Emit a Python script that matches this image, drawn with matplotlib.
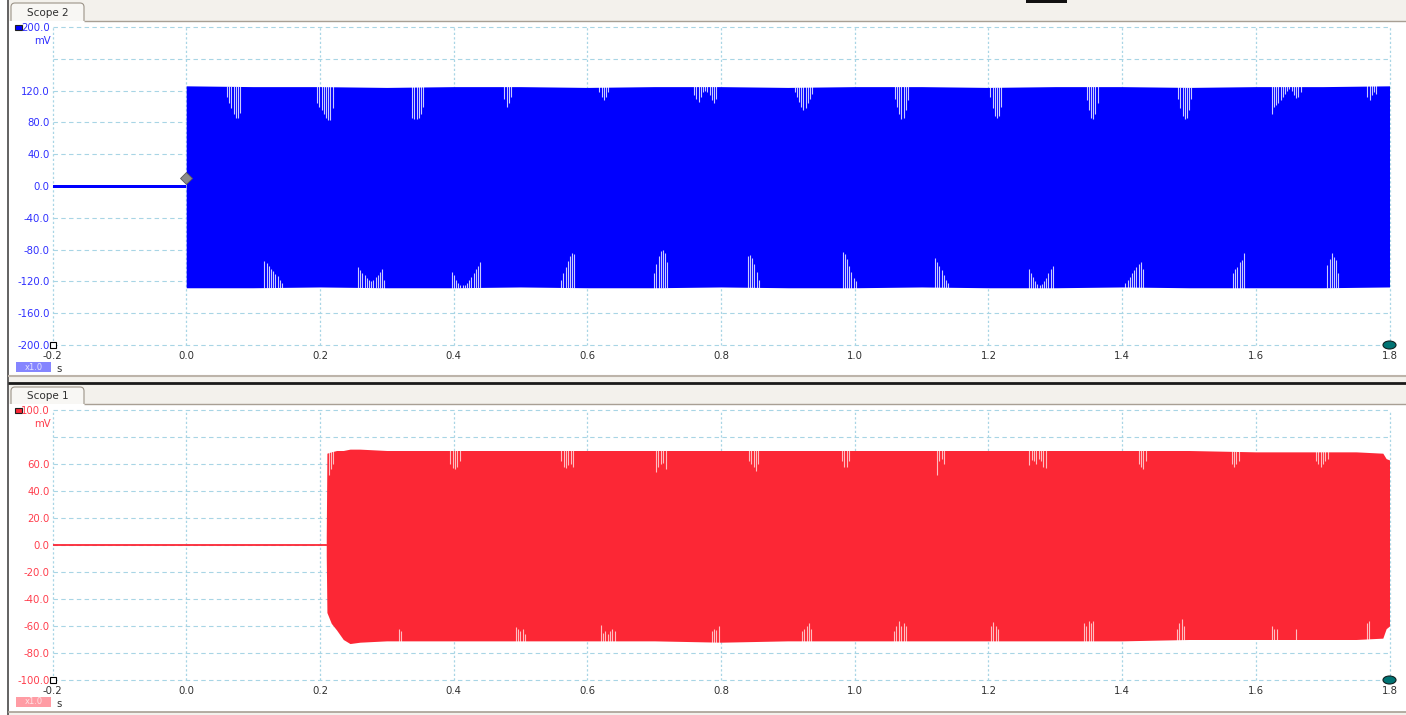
"""Two-channel scope capture (Scope 2 on top, Scope 1 below) redrawn with matplotlib."""

import numpy as np
import matplotlib
matplotlib.use('Agg')
import matplotlib.pyplot as plt
from matplotlib.patches import Rectangle, FancyBboxPatch, Ellipse


time_ticks = [-0.2, 0.0, 0.2, 0.4, 0.6, 0.8, 1.0, 1.2, 1.4, 1.6, 1.8]
time_labels = ['-0.2', '0.0', '0.2', '0.4', '0.6', '0.8', '1.0', '1.2', '1.4', '1.6', '1.8']

ch2_ticks = [-200, -160, -120, -80, -40, 0, 40, 80, 120, 160, 200]
ch2_labels = ['-200.0', '-160.0', '-120.0', '-80.0', '-40.0', '0.0',
              '40.0', '80.0', '120.0', '', '200.0']
ch1_ticks = [-100, -80, -60, -40, -20, 0, 20, 40, 60, 80, 100]
ch1_labels = ['-100.0', '-80.0', '-60.0', '-40.0', '-20.0', '0.0',
              '20.0', '40.0', '60.0', '', '100.0']

# Scope 2 (blue), mV
ch2_pre_t = [-0.2, 0.0]
ch2_pre_hi = [1.5, 1.5]
ch2_pre_lo = [-2.5, -2.5]
ch2_env_t = [0.0, 0.1, 0.2, 0.3, 0.4, 0.5, 0.6, 0.7, 0.8, 0.9,
             1.0, 1.1, 1.2, 1.3, 1.4, 1.5, 1.6, 1.7, 1.8]
ch2_env_hi = [126, 125, 125, 124, 125, 125, 124, 125, 125, 124,
              125, 125, 124, 125, 125, 124, 125, 125, 126]
ch2_env_lo = [-128, -128, -127, -128, -128, -127, -128, -128, -127, -128,
              -128, -127, -128, -128, -127, -128, -128, -128, -127]
# (start time, slit depths) for the notches in the envelope
ch2_top_dips = [
    (0.061, [112, 105, 98, 90, 86, 85, 92]),
    (0.196, [104, 100, 95, 90, 86, 83, 83, 98]),
    (0.338, [85, 84, 84, 86, 90, 100]),
    (0.476, [110, 100, 104, 112]),
    (0.618, [118, 112, 108, 112, 118]),
    (0.760, [115, 110, 106, 112, 118, 120, 118, 114, 108, 104, 110]),
    (0.910, [118, 112, 106, 100, 96, 98, 104, 110, 116]),
    (1.060, [110, 100, 90, 84, 86, 95, 108]),
    (1.203, [112, 98, 88, 85, 88, 100]),
    (1.347, [108, 95, 86, 84, 90, 104]),
    (1.484, [110, 98, 88, 84, 86, 96, 110]),
    (1.624, [90, 100, 102, 105, 108, 112, 116, 120, 122, 120, 114, 111, 112, 118]),
    (1.767, [112, 108, 115, 118, 116]),
]
ch2_bot_dips = [
    (0.117, [-94, -97, -101, -104, -107, -111, -113, -118, -122]),
    (0.257, [-102, -106, -109, -112, -116, -118, -120, -118, -115, -112, -108, -104, -118]),
    (0.397, [-108, -112, -118, -122, -124, -125, -124, -122, -118, -115, -110, -104, -100, -96]),
    (0.561, [-118, -110, -102, -94, -88, -84, -86]),
    (0.700, [-110, -98, -88, -82, -80, -84, -95]),
    (0.840, [-88, -87, -90, -98, -108, -118]),
    (0.982, [-83, -86, -92, -100, -108, -116, -120]),
    (1.120, [-90, -95, -100, -106, -112, -118, -122]),
    (1.260, [-105, -110, -115, -120, -123, -124, -123, -120, -116, -110, -104, -100]),
    (1.405, [-122, -118, -114, -110, -106, -102, -98, -96, -104]),
    (1.566, [-109, -104, -102, -96, -93, -84]),
    (1.707, [-99, -92, -84, -89, -93, -110]),
]
ch2_trigger = (0.0, 10.0)

# Scope 1 (red), mV
ch1_pre_t = [-0.2, 0.209]
ch1_pre_v = [0.0, 0.0]
ch1_env_t = [0.2095, 0.2105, 0.217, 0.225, 0.235, 0.245, 0.26, 0.3, 0.4, 0.5,
             0.6, 0.7, 0.8, 0.9, 1.0, 1.1, 1.2, 1.3, 1.4, 1.5,
             1.6, 1.7, 1.75, 1.79, 1.795, 1.8]
ch1_env_hi = [6, 68, 69, 70, 70, 71, 71, 70, 70, 70,
              70, 70, 70, 70, 70, 70, 70, 70, 70, 70,
              69, 69, 69, 68, 64, 63]
ch1_env_lo = [-8, -50, -58, -63, -70, -73, -72, -71, -71, -71,
              -71, -71, -72, -71, -71, -71, -71, -71, -71, -70,
              -70, -70, -70, -69, -62, -60]
ch1_top_dips = [
    (0.213, [52, 56, 60]),
    (0.395, [60, 57, 56, 58, 62]),
    (0.561, [62, 58, 57, 59, 60, 58]),
    (0.703, [54, 58, 60, 61, 56]),
    (0.842, [62, 60, 58, 55, 60]),
    (0.981, [62, 58, 58, 62]),
    (1.123, [52, 62, 64, 60]),
    (1.261, [59, 63, 62, 60, 64, 62, 58, 57]),
    (1.425, [60, 58, 56, 62]),
    (1.564, [60, 58, 60, 62]),
    (1.690, [62, 60, 58, 60, 62, 64]),
]
ch1_bot_dips = [
    (0.318, [-62, -64]),
    (0.493, [-61, -62, -64, -62, -66]),
    (0.620, [-59, -65, -64, -66, -64, -62, -64]),
    (0.786, [-64, -62, -63, -60]),
    (0.921, [-64, -62, -60, -58, -62]),
    (1.059, [-64, -60, -56, -60, -58, -60]),
    (1.204, [-60, -57, -60, -62]),
    (1.343, [-58, -60, -56, -58, -56]),
    (1.482, [-62, -58, -55, -60]),
    (1.624, [-60, -62, -62]),
    (1.660, [-62]),
    (1.766, [-58, -56]),
]

# ---- look ----
W, H = 1406, 715
BEIGE = '#f3f1ec'
EDGE = '#a89f94'
GRID = '#a8d5e5'
BLUE = '#0000ff'
RED = '#fc2735'
FONT = 7.3

fig = plt.figure(figsize=(W / 100, H / 100), dpi=100, facecolor=BEIGE)
bg = fig.add_axes([0, 0, 1, 1])
bg.set_xlim(0, W)
bg.set_ylim(H, 0)
bg.axis('off')


def rect(x, y, w, h, color, z=1):
    bg.add_patch(Rectangle((x, y), w, h, facecolor=color, edgecolor='none', zorder=z))


def hline(y, x0, x1, color, lw=1.0):
    bg.plot([x0, x1], [y, y], color=color, lw=lw, solid_capstyle='butt', zorder=3)


def tab(x, y, w, h, text):
    bg.add_patch(FancyBboxPatch((x, y), w, h + 6, boxstyle='round,pad=0,rounding_size=4',
                                facecolor='#f8f7f4', edgecolor='#9c9488', lw=0.8, zorder=1))
    bg.text(x + w / 2, y + h / 2 + 1, text, fontsize=7.5, color='#303030',
            ha='center', va='center', zorder=4)


# window chrome
rect(0, 0, 7, H, 'white')
bg.plot([7.5, 7.5], [0, H], color='#4a4a4a', lw=1.2, zorder=3)
rect(1026, 0, 41, 2.5, '#111111', z=3)
tab(11, 3, 73, 17, 'Scope 2')
rect(8.5, 20.5, W, 354.5, 'white', z=2)
hline(20.5, 84, W, EDGE)
hline(375.5, 8, W, '#bdb4aa', lw=1.5)
hline(382.5, 8, W, '#1a1a1a', lw=2.0)
tab(11, 387, 73, 16, 'Scope 1')
rect(8.5, 403.5, W, 308, 'white', z=2)
hline(403.5, 84, W, EDGE)
hline(712, 8, W, EDGE, lw=1.2)

# channel swatches and scale badges
for y_sw, col in ((24.5, BLUE), (407.5, RED)):
    bg.add_patch(Rectangle((15, y_sw), 7, 5, facecolor=col, edgecolor='#202020',
                           lw=0.8, zorder=5))
for y_bx, col, txt_col in ((362, '#8585ff', '#e4e4ff'), (697, '#ff9ca4', '#ffe4e6')):
    rect(16, y_bx, 35, 10, col, z=5)
    bg.text(33.5, y_bx + 5, 'x1.0', fontsize=6, color=txt_col, ha='center', va='center', zorder=6)
    bg.text(56, y_bx + 7, 's', fontsize=FONT, color='#303030', ha='left', va='center', zorder=6)


def px_axes(x0, y0, x1, y1):
    ax = fig.add_axes([x0 / W, 1 - y1 / H, (x1 - x0) / W, (y1 - y0) / H])
    ax.set_facecolor('none')
    for s in ax.spines.values():
        s.set_visible(False)
    return ax


def draw_slits(ax, dips, env_t, env, step, top, alpha):
    for t0, depths in dips:
        ts = t0 + step * np.arange(len(depths))
        edge = np.interp(ts, env_t, env)
        if top:
            ax.vlines(ts, depths, edge + 1, color='white', alpha=alpha, lw=0.8, zorder=3)
        else:
            ax.vlines(ts, edge - 1, depths, color='white', alpha=alpha, lw=0.8, zorder=3)


def setup_scope(ax, ticks, labels, lab_color, mv_at):
    ax.set_xlim(time_ticks[0], time_ticks[-1])
    ax.set_ylim(ticks[0], ticks[-1])
    for v in ticks:
        ax.axhline(v, color=GRID, lw=0.8, ls=(0, (4, 3)), zorder=0.5, clip_on=False)
    for t in time_ticks:
        ax.axvline(t, color=GRID, lw=0.9, ls=(0, (1.8, 1.8)), zorder=0.5, clip_on=False)
    ax.set_xticks(time_ticks, time_labels)
    ax.set_yticks(ticks, labels)
    ax.tick_params(length=0, labelsize=FONT)
    ax.tick_params(axis='y', pad=2, labelcolor=lab_color)
    ax.tick_params(axis='x', pad=4, labelcolor='#303030')
    ax.annotate('mV', xy=(0, mv_at), xycoords=('axes fraction', 'data'),
                xytext=(-2, 0), textcoords='offset pixels', ha='right', va='center',
                fontsize=FONT, color=lab_color)
    # corner markers
    ax.plot(time_ticks[0], ticks[0], marker='s', ms=4.3, mfc='white', mec='black',
            mew=0.8, clip_on=False, zorder=6)
    px_t = (time_ticks[-1] - time_ticks[0]) / 1337
    px_v = (ticks[-1] - ticks[0]) / (ax.get_position().height * H)
    ax.add_patch(Ellipse((time_ticks[-1], ticks[0]), 13 * px_t, 8 * px_v,
                         facecolor='#007373', edgecolor='#102020', lw=0.8,
                         clip_on=False, zorder=6))


# ---- Scope 2 ----
ax2 = px_axes(52.5, 27, 1389.5, 345)
setup_scope(ax2, ch2_ticks, ch2_labels, '#2f2fff', 182.4)
ax2.fill_between(ch2_pre_t, ch2_pre_lo, ch2_pre_hi, color=BLUE, lw=0, zorder=2)
ax2.fill_between(ch2_env_t, ch2_env_lo, ch2_env_hi, color=BLUE, lw=0, zorder=2)
draw_slits(ax2, ch2_top_dips, ch2_env_t, ch2_env_hi, 0.0033, True, 0.8)
draw_slits(ax2, ch2_bot_dips, ch2_env_t, ch2_env_lo, 0.0033, False, 0.8)
ax2.plot(*ch2_trigger, marker='D', ms=6, mfc='#8c8c8c', mec='#5a5a5a', mew=0.6, zorder=5)

# ---- Scope 1 ----
ax1 = px_axes(52.5, 410, 1389.5, 680)
setup_scope(ax1, ch1_ticks, ch1_labels, '#ff3d4c', 89.6)
ax1.plot(ch1_pre_t, ch1_pre_v, color=RED, lw=1.3, zorder=2)
ax1.fill_between(ch1_env_t, ch1_env_lo, ch1_env_hi, color=RED, lw=0, zorder=2)
draw_slits(ax1, ch1_top_dips, ch1_env_t, ch1_env_hi, 0.0035, True, 0.7)
draw_slits(ax1, ch1_bot_dips, ch1_env_t, ch1_env_lo, 0.0035, False, 0.7)

fig.savefig('out.png', dpi=100, facecolor=BEIGE)
plt.close(fig)
